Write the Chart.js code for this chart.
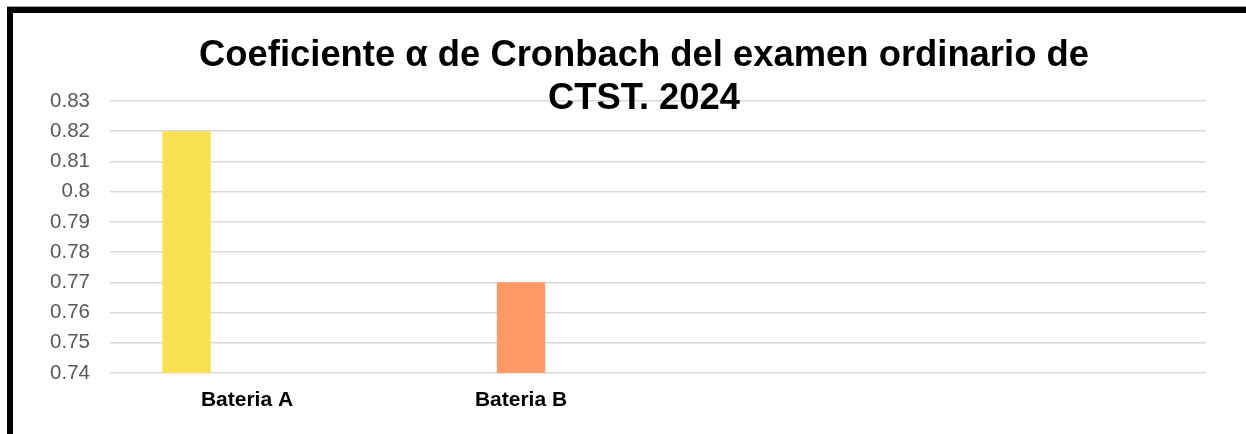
<!DOCTYPE html>
<html>
<head>
<meta charset="utf-8">
<script src="https://cdn.jsdelivr.net/npm/chart.js@4.4.1/dist/chart.umd.min.js"></script>
<style>
    html, body { margin: 0; padding: 0; background: #fff; }
    #wrap { position: relative; width: 1246px; height: 434px; overflow: hidden; }
    #chart { position: absolute; left: 0; top: 0; }
    .edge-grey { position: absolute; left: 7px; top: 6px; width: 1239px; height: 1px; background: #a6a6a6; }
    .edge-top { position: absolute; left: 7px; top: 7px; width: 1239px; height: 6px; background: #000; }
    .edge-left { position: absolute; left: 7px; top: 7px; width: 6px; height: 427px; background: #000; }
</style>
</head>
<body>
<div id="wrap">
    <canvas id="chart" width="1246" height="434"></canvas>
    <div class="edge-grey"></div>
    <div class="edge-top"></div>
    <div class="edge-left"></div>
</div>
<script>
// Categories on the x axis (the last two are empty slots, as in the original sheet)
const categories = ['Bateria A', 'Bateria B', '', ''];

// Cronbach's alpha per battery
const bateriaA = [0.82, null, null, null];
const bateriaB = [null, 0.77, null, null];
const serieVacia = [null, null, null, null];

// y axis range
const yMin = 0.74;
const yMax = 0.83;
const yStep = 0.01;

const titleLines = ['Coeficiente α de Cronbach del examen ordinario de', 'CTST. 2024'];

// Title is drawn on top of the plot, overlapping the first gridline like the original
const overlayTitle = {
    id: 'overlayTitle',
    afterDraw(chart) {
        const ctx = chart.ctx;
        ctx.save();
        ctx.font = 'bold 36.4px "Liberation Sans", Arial, sans-serif';
        ctx.fillStyle = '#000';
        ctx.textAlign = 'center';
        ctx.textBaseline = 'alphabetic';
        ctx.fillText(titleLines[0], 644, 66);
        ctx.fillText(titleLines[1], 644, 109);
        ctx.restore();
    }
};

new Chart(document.getElementById('chart').getContext('2d'), {
    type: 'bar',
    data: {
        labels: categories,
        datasets: [{
            label: 'Bateria A',
            data: bateriaA,
            backgroundColor: '#f9df52'
        }, {
            label: 'Bateria B',
            data: bateriaB,
            backgroundColor: '#ff9966'
        }, {
            label: '',
            data: serieVacia,
            backgroundColor: '#cccccc'
        }]
    },
    options: {
        responsive: false,
        animation: false,
        layout: {
            padding: { top: 101, right: 40, left: 0, bottom: 0 }
        },
        datasets: {
            bar: {
                categoryPercentage: 0.662,
                barPercentage: 0.8
            }
        },
        plugins: {
            legend: { display: false },
            tooltip: { enabled: false },
            title: { display: false }
        },
        scales: {
            x: {
                grid: { display: false, drawTicks: false },
                border: { display: false },
                ticks: {
                    color: '#000',
                    padding: 15,
                    font: { family: '"Liberation Sans", Arial, sans-serif', size: 21, weight: 'bold' }
                },
                afterFit(scale) { scale.height = 61; }
            },
            y: {
                min: yMin,
                max: yMax,
                grid: { color: '#d9d9d9', lineWidth: 1.5, drawTicks: false },
                border: { display: false },
                ticks: {
                    stepSize: yStep,
                    color: '#595959',
                    padding: 20,
                    font: { family: '"Liberation Sans", Arial, sans-serif', size: 20.5 },
                    callback: v => String(parseFloat(v.toFixed(2)))
                },
                afterFit(scale) { scale.width = 110; }
            }
        }
    },
    plugins: [overlayTitle]
});
</script>
</body>
</html>
